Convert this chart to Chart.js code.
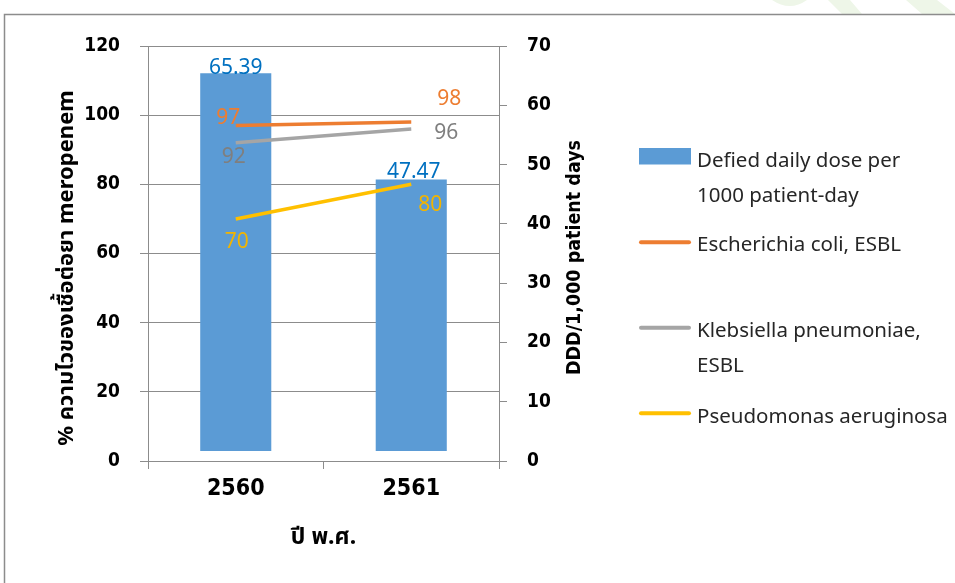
<!DOCTYPE html>
<html>
<head>
<meta charset="utf-8">
<script src="https://cdn.jsdelivr.net/npm/chart.js@4.4.1/dist/chart.umd.min.js"></script>
<style>
  html, body { margin: 0; padding: 0; background: #fff; }
  #wrap { width: 955px; height: 583px; }
</style>
</head>
<body>
<div id="wrap"><canvas id="chart" width="955" height="583"></canvas></div>
<script>
// ข้อมูลที่อ่านจากกราฟ //
const years = ["2560", "2561"];
const dddPer1000 = [65.39, 47.47];
const ecoliEsbl = [97, 98];
const klebsiellaEsbl = [92, 96];
const pseudomonas = [70, 80];

// tick labels of the two y axes
const percentTicks = [0, 20, 40, 60, 80, 100, 120];
const dddTicks = [0, 10, 20, 30, 40, 50, 60, 70];

const axisFont = '"DejaVu Sans Condensed", "DejaVu Sans", sans-serif';
const textFont = '"Noto Sans", "Noto Sans Thai", sans-serif';
const gridColor = "#8c8c8c";

// พื้นหลัง + กรอบ //
const backdrop = {
  id: "backdrop",
  beforeDraw(chart) {
    const ctx = chart.ctx;
    ctx.save();
    ctx.fillStyle = "#eef6e8";
    ctx.beginPath();
    ctx.moveTo(772, 0); ctx.quadraticCurveTo(790, 12, 807, 0); ctx.closePath();
    ctx.fill();
    ctx.beginPath();
    ctx.moveTo(828, 0); ctx.lineTo(850, 0); ctx.lineTo(862, 14); ctx.lineTo(842, 14); ctx.closePath();
    ctx.fill();
    ctx.beginPath();
    ctx.moveTo(906, 0); ctx.lineTo(937, 0); ctx.lineTo(955, 14); ctx.lineTo(922, 14); ctx.closePath();
    ctx.fill();
    ctx.strokeStyle = "#8c8c8c";
    ctx.lineWidth = 1.5;
    ctx.beginPath();
    ctx.moveTo(4.5, 583); ctx.lineTo(4.5, 14.5); ctx.lineTo(955, 14.5);
    ctx.stroke();
    ctx.restore();
  }
};

// ตัวเลขบนกราฟ //
const valueLabels = {
  id: "valueLabels",
  afterDatasetsDraw(chart, args, opts) {
    const ctx = chart.ctx;
    ctx.save();
    ctx.font = "21px " + textFont;
    ctx.textAlign = "center";
    ctx.textBaseline = "alphabetic";
    chart.data.datasets.forEach((ds, i) => {
      const meta = chart.getDatasetMeta(i);
      const shift = opts.offsets[i];
      ctx.fillStyle = opts.colors[i];
      meta.data.forEach((el, j) => {
        const p = el.getProps(["x", "y"], true);
        ctx.fillText(String(ds.data[j]), p.x + shift[j][0], p.y + shift[j][1]);
      });
    });
    ctx.restore();
  }
};

// legend ด้านขวา //
const sideLegend = {
  id: "sideLegend",
  afterDraw(chart, args, opts) {
    const ctx = chart.ctx;
    ctx.save();
    opts.items.forEach((item) => {
      const ds = chart.data.datasets[item.dataset];
      if (ds.type === "bar") {
        ctx.fillStyle = ds.backgroundColor;
        ctx.fillRect(639, item.markY - 8, 52, 16.5);
      } else {
        ctx.strokeStyle = ds.borderColor;
        ctx.lineWidth = 4;
        ctx.lineCap = "round";
        ctx.beginPath();
        ctx.moveTo(641, item.markY);
        ctx.lineTo(689, item.markY);
        ctx.stroke();
      }
      ctx.fillStyle = "#262626";
      ctx.font = "20.5px " + textFont;
      ctx.textBaseline = "alphabetic";
      item.lines.forEach((t, k) => ctx.fillText(t, 697, item.baseY[k]));
    });
    ctx.restore();
  }
};

// ชื่อแกนแนวตั้ง //
const axisTitles = {
  id: "axisTitles",
  afterDraw(chart) {
    const ctx = chart.ctx;
    ctx.save();
    ctx.fillStyle = "#000";
    ctx.textAlign = "center";
    ctx.textBaseline = "middle";
    ctx.translate(67, 268);
    ctx.rotate(-Math.PI / 2);
    ctx.font = "bold 22px " + textFont;
    ctx.fillText("% ความไวของเชื้อต่อยา meropenem", 0, 0);
    ctx.restore();
    ctx.save();
    ctx.fillStyle = "#000";
    ctx.textAlign = "center";
    ctx.textBaseline = "middle";
    ctx.translate(575, 257.5);
    ctx.rotate(-Math.PI / 2);
    ctx.font = "bold 19.5px " + axisFont;
    ctx.fillText("DDD/1,000 patient days", 0, 0);
    ctx.restore();
  }
};

const ctx = document.getElementById("chart").getContext("2d");

new Chart(ctx, {
  data: {
    labels: years,
    datasets: [
      {
        type: "bar",
        label: "Defied daily dose per 1000 patient-day",
        data: dddPer1000,
        yAxisID: "y1",
        base: 1.7,
        backgroundColor: "#5b9bd5",
        categoryPercentage: 1,
        barPercentage: 0.405,
        order: 2,
      },
      {
        type: "line",
        label: "Escherichia coli, ESBL",
        data: ecoliEsbl,
        yAxisID: "y",
        borderColor: "#ed7d31",
        borderWidth: 3.5,
        pointRadius: 0,
        order: 1,
      },
      {
        type: "line",
        label: "Klebsiella pneumoniae, ESBL",
        data: klebsiellaEsbl,
        yAxisID: "y",
        borderColor: "#a5a5a5",
        borderWidth: 3.5,
        pointRadius: 0,
        order: 1,
      },
      {
        type: "line",
        label: "Pseudomonas aeruginosa",
        data: pseudomonas,
        yAxisID: "y",
        borderColor: "#ffc000",
        borderWidth: 3.5,
        pointRadius: 0,
        order: 1,
      },
    ],
  },
  options: {
    responsive: false,
    animation: false,
    devicePixelRatio: 1,
    layout: { padding: { left: 0, right: 356, top: 46, bottom: 0 } },
    plugins: {
      legend: { display: false },
      tooltip: { enabled: false },
      valueLabels: {
        colors: ["#0070c0", "#ed7d31", "#7f7f7f", "#f2b400"],
        offsets: [
          [[0, 0.7], [2.5, -1.5]],
          [[-7.5, -2], [38, -17]],
          [[-2, 19.7], [35, 10]],
          [[1, 28.6], [19, 26.7]],
        ],
      },
      sideLegend: {
        items: [
          { dataset: 0, markY: 156, lines: ["Defied daily dose per", "1000 patient-day"], baseY: [167, 201.5] },
          { dataset: 1, markY: 242.3, lines: ["Escherichia coli, ESBL"], baseY: [250.7] },
          { dataset: 2, markY: 327.7, lines: ["Klebsiella pneumoniae,", "ESBL"], baseY: [337, 372] },
          { dataset: 3, markY: 413.3, lines: ["Pseudomonas aeruginosa"], baseY: [422.5] },
        ],
      },
    },
    scales: {
      x: {
        type: "category",
        offset: true,
        grid: { display: true, drawOnChartArea: false, drawTicks: true, tickLength: 8, color: gridColor, offset: true },
        border: { display: true, color: gridColor },
        ticks: { color: "#000", font: { family: axisFont, size: 23, weight: "bold" }, padding: 6 },
        title: {
          display: true,
          text: "ปี พ.ศ.",
          color: "#000",
          font: { family: textFont, size: 23, weight: "bold" },
          padding: { top: 0, bottom: 32 },
        },
        afterFit(scale) { scale.height = 122; },
      },
      y: {
        position: "left",
        min: percentTicks[0],
        max: percentTicks[percentTicks.length - 1],
        ticks: { stepSize: percentTicks[1] - percentTicks[0], color: "#000", font: { family: axisFont, size: 19, weight: "bold" }, padding: 20 },
        grid: { color: gridColor, tickLength: 8 },
        border: { display: true, color: gridColor },
        afterFit(scale) { scale.width = 148; },
      },
      y1: {
        position: "right",
        min: dddTicks[0],
        max: dddTicks[dddTicks.length - 1],
        ticks: { stepSize: dddTicks[1] - dddTicks[0], color: "#000", font: { family: axisFont, size: 19, weight: "bold" }, padding: 20 },
        grid: { drawOnChartArea: false, color: gridColor, tickLength: 8 },
        border: { display: true, color: gridColor },
        afterFit(scale) { scale.width = 100; },
      },
    },
  },
  plugins: [backdrop, valueLabels, sideLegend, axisTitles],
});
</script>
</body>
</html>
